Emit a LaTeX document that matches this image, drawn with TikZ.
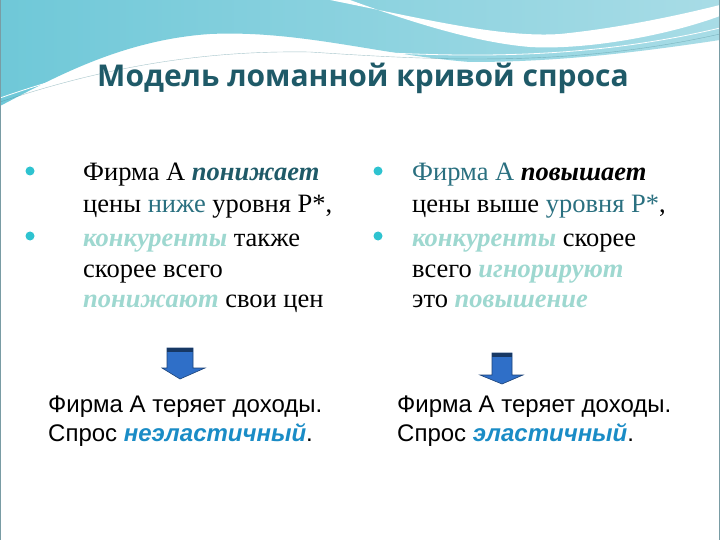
\documentclass[tikz,border=0pt]{standalone}
\usepackage{fontspec}
\setmainfont{Liberation Serif}
\newfontfamily\arialf{Liberation Sans}
\newfontfamily\titlef{Open Sans}
\definecolor{dteal}{HTML}{1F5A68}
\definecolor{mteal}{HTML}{2A7080}
\definecolor{lteal}{HTML}{9ED8D0}
\definecolor{eblue}{HTML}{1A8CC6}
\definecolor{bullc}{HTML}{2EC3D0}
\definecolor{arrblue}{HTML}{2F6FC8}
\definecolor{wave1}{HTML}{6FC8D8}
\definecolor{wave2}{HTML}{A8DCE6}
\begin{document}
\begin{tikzpicture}[x=1pt,y=-1pt,
 body/.style={anchor=base west,inner sep=0pt,font=\fontsize{26.5}{30}\selectfont},
 bot/.style={anchor=base west,inner sep=0pt,font=\arialf\fontsize{24}{28}\selectfont},
 bul/.style={circle,fill=bullc,minimum size=9pt,inner sep=0pt},
 arr/.style={fill=arrblue,draw=arrblue!60!black,line width=0.6pt}]
\useasboundingbox (0,0) rectangle (720,540);
\fill[white] (0,0) rectangle (720,540);
% top wave
\shade[left color=wave1,right color=wave2] (0,0) -- (720,0) -- (720,40)
 .. controls (640,52) and (560,62) .. (470,62)
 .. controls (380,55) and (300,30) .. (210,34)
 .. controls (120,40) and (50,80) .. (0,106) -- cycle;
\fill[white] (330,0) .. controls (420,18) and (500,38) .. (560,34)
 .. controls (620,28) and (680,15) .. (720,5) -- (720,16)
 .. controls (660,38) and (580,50) .. (530,47)
 .. controls (470,42) and (400,18) .. (350,0) -- cycle;
\draw[white,line width=0.8pt] (0,98) .. controls (80,70) and (180,45) .. (300,48) .. controls (420,55) and (560,66) .. (720,28);
\draw[wave1!70!black,line width=0.4pt,opacity=0.5] (0,102) .. controls (90,72) and (190,50) .. (310,52) .. controls (430,60) and (570,68) .. (720,34);
\draw[dteal!60,line width=1pt] (0.5,0) -- (0.5,540) (719.5,0) -- (719.5,540);
% title
\node[inner sep=0pt,text=dteal,font=\titlef\bfseries\fontsize{30}{36}\selectfont] (title) at (363,78) {Модель ломанной кривой спроса};
% left bullets
\node[bul] (b1) at (30,171) {};
\node[bul] (b2) at (30,236) {};
\node[body] (l1) at (83,181) {Фирма А \textcolor{dteal}{\textbf{\textit{понижает}}}};
\node[body] (l2) at (83,212) {цены \textcolor{mteal}{ниже} уровня Р*,};
\node[body] (l3) at (83,246) {\textcolor{lteal}{\textbf{\textit{конкуренты}}} также};
\node[body] (l4) at (83,277) {скорее всего};
\node[body] (l5) at (83,307) {\textcolor{lteal}{\textbf{\textit{понижают}}} свои цен};
% right bullets
\node[bul] (b3) at (378,171) {};
\node[bul] (b4) at (378,236) {};
\node[body] (r1) at (412,181) {\textcolor{mteal}{Фирма А} \textbf{\textit{повышает}}};
\node[body] (r2) at (412,212) {цены выше \textcolor{mteal}{уровня Р*},};
\node[body] (r3) at (412,246) {\textcolor{lteal}{\textbf{\textit{конкуренты}}} скорее};
\node[body] (r4) at (412,277) {всего \textcolor{lteal}{\textbf{\textit{игнорируют}}}};
\node[body] (r5) at (412,307) {это \textcolor{lteal}{\textbf{\textit{повышение}}}};
% arrows
\draw[arr] (167,348) -- (193,348) -- (193,368) -- (205,368) -- (180,379) -- (162,368) -- (167,368) -- cycle;
\fill[arrblue!50!black] (167,348) rectangle (193,352);
\draw[arr] (492,353) -- (512,353) -- (512,375) -- (523,375) -- (502,384) -- (480,375) -- (492,375) -- cycle;
\fill[arrblue!50!black] (492,353) rectangle (512,357);
% bottom texts
\node[bot] (lb1) at (48,412) {Фирма А теряет доходы.};
\node[bot] (lb2) at (48,441) {Спрос \textcolor{eblue}{\textbf{\textit{неэластичный}}}.};
\node[bot] (rb1) at (397,412) {Фирма А теряет доходы.};
\node[bot] (rb2) at (397,441) {Спрос \textcolor{eblue}{\textbf{\textit{эластичный}}}.};
\end{tikzpicture}
\end{document}
